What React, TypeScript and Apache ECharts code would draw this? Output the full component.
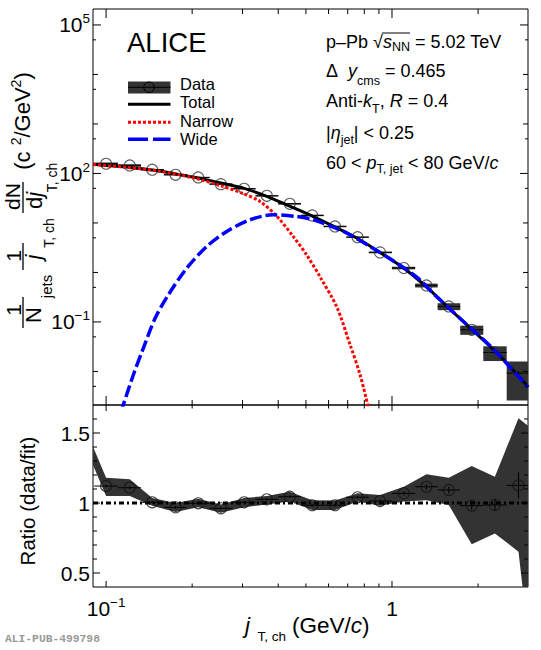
import React, { useEffect, useRef } from 'react';
import * as echarts from 'echarts';

const FONT = "'Liberation Sans', Arial, Helvetica, sans-serif";

// axis ranges
const X_MIN = 0.09;
const X_MAX = 2.99;
const Y_MIN = 0.0021;
const Y_MAX = 2.1e5;
const R_MIN = 0.4;
const R_MAX = 1.7;

// data points (bin centres, jT,ch in GeV/c)
const jT = [0.100, 0.121, 0.145, 0.175, 0.210, 0.252, 0.304, 0.365, 0.439, 0.526, 0.632, 0.758, 0.908, 1.10, 1.32, 1.58, 1.90, 2.29, 2.77];
const dataY = [157, 145, 119, 94, 83, 60.8, 49.1, 35.4, 24.4, 14.2, 8.5, 5.16, 2.54, 1.23, 0.546, 0.206, 0.0695, 0.0242, 0.00924];
const statRel = [0.01, 0.01, 0.01, 0.01, 0.01, 0.01, 0.01, 0.01, 0.01, 0.01, 0.01, 0.01, 0.012, 0.015, 0.02, 0.025, 0.03, 0.045, 0.094];
const sysRel = [0.06, 0.06, 0.03, 0.03, 0.03, 0.03, 0.03, 0.03, 0.035, 0.035, 0.035, 0.03, 0.04, 0.06, 0.09, 0.16, 0.21, 0.33, 0.72];

// fit curves
const totalX = [0.0901, 0.1002, 0.121, 0.145, 0.175, 0.21, 0.252, 0.304, 0.365, 0.439, 0.526, 0.632, 0.758, 0.908, 1.10, 1.32, 1.58, 1.90, 2.29, 2.77, 2.99];
const totalY = [153, 145, 132, 117, 98, 81, 64, 50, 34.5, 21.8, 13.8, 8.3, 4.85, 2.53, 1.22, 0.51, 0.19, 0.071, 0.026, 0.0081, 0.0049];
const narrowX = [0.0901, 0.1174, 0.1545, 0.2014, 0.2504, 0.3013, 0.3455, 0.3962, 0.4506, 0.5044, 0.5645, 0.6422, 0.713, 0.7727, 0.8244, 0.86];
const narrowY = [152, 133, 111, 82, 57, 39.4, 27.2, 13.5, 5.4, 2.2, 0.756, 0.196, 0.0351, 0.0087, 0.00196, 0.0006];
const wideX = [0.1084, 0.1144, 0.1246, 0.135, 0.1484, 0.1651, 0.1915, 0.225, 0.2642, 0.3188, 0.3846, 0.4643, 0.5306, 0.6319, 0.6944, 0.8603, 1.0245, 1.236, 1.394, 1.825, 2.261, 2.99];
const wideY = [0.00074, 0.00196, 0.00858, 0.0296, 0.119, 0.354, 1.222, 3.35, 6.73, 11.6, 14.6, 13.5, 11.6, 7.93, 6.28, 3.05, 1.63, 0.756, 0.3765, 0.089, 0.0285, 0.00475];

// ratio panel
const ratio = [1.121, 1.109, 1.005, 0.969, 0.998, 0.962, 1.005, 1.026, 1.045, 0.984, 0.984, 1.041, 1.014, 1.069, 1.116, 1.093, 0.981, 0.986, 1.126];
const ratioStat = [0.01, 0.01, 0.01, 0.01, 0.01, 0.01, 0.01, 0.01, 0.01, 0.01, 0.01, 0.01, 0.012, 0.015, 0.02, 0.025, 0.03, 0.045, 0.094];
const bandX = [0.0835, 0.100, 0.121, 0.145, 0.175, 0.210, 0.252, 0.304, 0.365, 0.439, 0.526, 0.632, 0.758, 0.908, 1.10, 1.32, 1.58, 1.90, 2.29, 2.77, 3.32];
const bandUp = [1.56, 1.18, 1.17, 1.036, 1.0, 1.03, 0.99, 1.036, 1.05, 1.08, 1.02, 1.017, 1.07, 1.057, 1.116, 1.205, 1.18, 1.264, 1.188, 1.605, 1.48];
const bandLo = [1.43, 1.05, 1.05, 0.98, 0.936, 0.97, 0.93, 0.97, 0.99, 1.01, 0.95, 0.95, 1.01, 0.98, 1.01, 1.02, 0.986, 0.705, 0.783, 0.652, -0.75];
const ratioRef = 1;

// ticks
const xMajorTicks = [0.1, 1];
const xMinorTicks = [0.2, 0.3, 0.4, 0.5, 0.6, 0.7, 0.8, 0.9, 2];
const yLabelDecades = [1e-1, 1e2, 1e5];
const yOtherDecades = [1e-2, 1, 10, 1e3, 1e4];
const yHalfDecades = [5e-3, 5e-2, 0.5, 5, 50, 500, 5e3, 5e4];
const rMajorTicks = [0.5, 1, 1.5];
const rMinorTicks = [0.6, 0.7, 0.8, 0.9, 1.1, 1.2, 1.3, 1.4, 1.6];

const binEdges = jT.map((x, i) => {
  const prev = i > 0 ? jT[i - 1] : (x * x) / jT[i + 1];
  const next = i < jT.length - 1 ? jT[i + 1] : (x * x) / jT[i - 1];
  return [Math.sqrt(prev * x), Math.sqrt(x * next)];
});

const zip = (xs: number[], ys: number[]) => xs.map((x, i) => [x, ys[i]]);

function tickRenderer(xSets: [number[], number][], ySets: [number[], number][], yRef: number) {
  return (params: any, api: any) => {
    const cs = params.coordSys;
    const L = cs.x, R = cs.x + cs.width, T = cs.y, B = cs.y + cs.height;
    const children: any[] = [];
    const ln = (x1: number, y1: number, x2: number, y2: number) =>
      children.push({ type: 'line', shape: { x1, y1, x2, y2 }, style: { stroke: '#000', lineWidth: 1 } });
    xSets.forEach(([vals, len]) =>
      vals.forEach((v) => {
        const px = api.coord([v, yRef])[0];
        if (px < L - 0.5 || px > R + 0.5) return;
        ln(px, B, px, B - len);
        ln(px, T, px, T + len);
      })
    );
    ySets.forEach(([vals, len]) =>
      vals.forEach((v) => {
        const py = api.coord([1, v])[1];
        if (py < T - 0.5 || py > B + 0.5) return;
        ln(L, py, L + len, py);
        ln(R, py, R - len, py);
      })
    );
    return { type: 'group', children };
  };
}

const errRenderer = (params: any, api: any) => {
  const x = api.value(0), y = api.value(1);
  const lo = api.value(2), hi = api.value(3), ylo = api.value(4), yhi = api.value(5);
  const c = api.coord([x, y]);
  const a = api.coord([lo, y]);
  const b = api.coord([hi, y]);
  const v1 = api.coord([x, ylo]);
  const v2 = api.coord([x, yhi]);
  return {
    type: 'group',
    children: [
      { type: 'line', shape: { x1: a[0], y1: c[1], x2: b[0], y2: c[1] }, style: { stroke: '#000', lineWidth: 1 } },
      { type: 'line', shape: { x1: c[0], y1: v1[1], x2: c[0], y2: v2[1] }, style: { stroke: '#000', lineWidth: 1 } },
    ],
  };
};

function fmtX(v: number) {
  const e = Math.log10(v);
  const r = Math.round(e);
  if (Math.abs(e - r) > 1e-6) return '';
  if (r === 0) return '1';
  if (r === -1) return '10{sup|\u22121}';
  return '';
}
function fmtYTop(v: number) {
  const e = Math.log10(v);
  const r = Math.round(e);
  if (Math.abs(e - r) > 1e-6) return '';
  if (r === 5 || r === 2 || r === -1) return '10{sup|' + (r < 0 ? '\u2212' + -r : String(r)) + '}';
  return '';
}
function fmtRatio(v: number) {
  const r = Math.round(v * 10);
  if (Math.abs(v * 10 - r) > 1e-6) return '';
  if (r === 5) return '0.5';
  if (r === 10) return '1';
  if (r === 15) return '1.5';
  return '';
}

const supRich = { sup: { fontSize: 13.5, lineHeight: 13, verticalAlign: 'top', fontFamily: FONT, color: '#000' } };

const ROT = Math.PI / 2;
function T(x: number, y: number, text: string, size: number, extra: any = {}) {
  return {
    type: 'text',
    x,
    y,
    rotation: extra.rot ? ROT : 0,
    silent: true,
    z: 50,
    style: {
      text,
      fill: extra.fill || '#000',
      fontSize: size,
      fontFamily: extra.fontFamily || FONT,
      fontStyle: extra.italic ? 'italic' : 'normal',
      fontWeight: extra.bold ? 'bold' : 'normal',
      align: extra.align || 'left',
      textAlign: extra.align || 'left',
      verticalAlign: 'middle',
      textVerticalAlign: 'middle',
      lineHeight: extra.lineHeight || size + 6,
      rich: extra.rich,
    },
  };
}
function Ln(x1: number, y1: number, x2: number, y2: number, stroke = '#000', lineWidth = 1, lineDash?: number[]) {
  return { type: 'line', silent: true, z: 50, shape: { x1, y1, x2, y2 }, style: { stroke, lineWidth, lineDash } };
}

const trRich = {
  it: { fontStyle: 'italic', fontSize: 18, fontFamily: FONT, fill: '#000' },
  sub: { fontSize: 12.5, fontFamily: FONT, lineHeight: 12, verticalAlign: 'bottom', fill: '#000' },
};
const itOnly = { i: { fontStyle: 'italic', fontSize: 22, lineHeight: 28, fontFamily: FONT, fill: '#000' } };
const gSup = { sup: { fontSize: 14, fontFamily: FONT, lineHeight: 13, verticalAlign: 'top', fill: '#000' } };
const xtRich = { it: { fontStyle: 'italic', fontFamily: FONT, fill: '#000', fontSize: 22.5 } };

function buildOption() {
  const axisCommon = {
    axisLine: { show: false },
    axisTick: { show: false },
    splitLine: { show: false },
    minorTick: { show: false },
  };
  const labelCommon = {
    color: '#000',
    fontSize: 21,
    fontFamily: FONT,
    lineHeight: 26,
    rich: supRich,
    showMinLabel: false,
    showMaxLabel: false,
  };

  const graphics: any[] = [
    T(127, 42, 'ALICE', 27.5),
    // legend
    { type: 'rect', silent: true, z: 50, shape: { x: 128, y: 81.5, width: 42.5, height: 12 }, style: { fill: '#333' } },
    Ln(128, 87.3, 170.5, 87.3),
    { type: 'circle', silent: true, z: 51, shape: { cx: 149, cy: 87.3, r: 5.2 }, style: { fill: 'none', stroke: '#000', lineWidth: 1 } },
    Ln(128, 104.3, 170.5, 104.3, '#000', 3),
    Ln(128, 122.3, 170.5, 122.3, '#ff0000', 3, [3, 2]),
    Ln(128, 139.3, 170.5, 139.3, '#0000ff', 3.5, [20, 5]),
    T(180, 84, 'Data', 16.5, { lineHeight: 15 }),
    T(180, 102.2, 'Total', 16.5, { lineHeight: 15 }),
    T(180, 120.6, 'Narrow', 16.5, { lineHeight: 15 }),
    T(180, 139, 'Wide', 16.5, { lineHeight: 15 }),
    // info block
    T(326, 42, 'p\u2013Pb \u221A{it|s}{sub|NN} = 5.02 TeV', 18, { rich: trRich, lineHeight: 22 }),
    Ln(382, 33, 410, 33, '#000', 1),
    T(326, 71, '\u0394  {it|y}{sub|cms} = 0.465', 18, { rich: trRich, lineHeight: 32 }),
    T(326, 101, 'Anti-{it|k}{sub|T}, {it|R} = 0.4', 18, { rich: trRich, lineHeight: 28 }),
    T(326, 132.5, '|{it|\u03B7}{sub|jet}| < 0.25', 18, { rich: trRich, lineHeight: 28 }),
    T(326, 162.5, '60 < {it|p}{sub|T, jet} < 80 GeV/{it|c}', 18, { rich: trRich, lineHeight: 26 }),
    // y title (rotated)
    T(13, 310, '1', 21, { rot: true, align: 'center' }),
    Ln(23, 297, 23, 328, '#000', 1.3),
    T(33.5, 315, 'N', 22, { rot: true, align: 'center' }),
    T(46.5, 286.5, 'jets', 15, { rot: true, align: 'center' }),
    T(13, 256, '1', 21, { rot: true, align: 'center' }),
    Ln(23, 243, 23, 270, '#000', 1.3),
    T(33.5, 257, 'j', 22, { rot: true, align: 'center', italic: true }),
    T(48.5, 233, 'T, ch', 14, { rot: true, align: 'center' }),
    T(12.5, 196.5, 'dN', 21, { rot: true, align: 'center' }),
    Ln(23, 182, 23, 213, '#000', 1.3),
    T(34, 200.5, 'd{i|j}', 22, { rot: true, align: 'center', rich: itOnly, lineHeight: 28 }),
    T(51.5, 177.5, 'T, ch', 14, { rot: true, align: 'center' }),
    T(22, 121, '(c {sup|2}/GeV{sup|2})', 22, { rot: true, align: 'center', rich: gSup, lineHeight: 26 }),
    // ratio title
    T(27, 501, 'Ratio (data/fit)', 20.5, { rot: true, align: 'center' }),
    // x title
    T(245, 625, 'j', 22.5, { italic: true }),
    T(257.5, 636, 'T, ch', 13.5),
    T(292, 625, '(GeV/{it|c})', 22.5, { rich: xtRich }),
    T(5, 639, 'ALI-PUB-499798', 11.3, { fontFamily: "'Liberation Mono', 'DejaVu Sans Mono', monospace", bold: true, fill: '#999' }),
  ];

  return {
    animation: false,
    backgroundColor: '#ffffff',
    textStyle: { fontFamily: FONT },
    grid: [
      { left: 93, top: 9, width: 435, height: 396, show: true, borderColor: '#000', borderWidth: 1, backgroundColor: 'transparent', containLabel: false, outerBoundsMode: 'none' },
      { left: 93, top: 405, width: 435, height: 182, show: true, borderColor: '#000', borderWidth: 1, backgroundColor: 'transparent', containLabel: false, outerBoundsMode: 'none' },
    ],
    xAxis: [
      { gridIndex: 0, type: 'log', logBase: 10, min: X_MIN, max: X_MAX, ...axisCommon, axisLabel: { show: false } },
      {
        gridIndex: 1, type: 'log', logBase: 10, min: X_MIN, max: X_MAX, ...axisCommon,
        axisLabel: { ...labelCommon, margin: 8, formatter: fmtX },
      },
    ],
    yAxis: [
      {
        gridIndex: 0, type: 'log', logBase: 10, min: Y_MIN, max: Y_MAX, ...axisCommon,
        axisLabel: { ...labelCommon, margin: 3, formatter: fmtYTop },
      },
      {
        gridIndex: 1, type: 'value', min: R_MIN, max: R_MAX, interval: 0.1, ...axisCommon,
        axisLabel: { ...labelCommon, margin: 3, interval: 0, formatter: fmtRatio },
      },
    ],
    series: [
      // ---------- top panel ----------
      {
        type: 'custom', name: 'sys', xAxisIndex: 0, yAxisIndex: 0, clip: true, z: 2, silent: true,
        data: jT.map((x, i) => [x, dataY[i], binEdges[i][0], binEdges[i][1], dataY[i] * (1 - sysRel[i]), dataY[i] * (1 + sysRel[i])]),
        encode: { x: 0, y: 1 },
        renderItem: (params: any, api: any) => {
          const p1 = api.coord([api.value(2), api.value(5)]);
          const p2 = api.coord([api.value(3), api.value(4)]);
          return { type: 'rect', shape: { x: p1[0], y: p1[1], width: p2[0] - p1[0], height: p2[1] - p1[1] }, style: { fill: '#333' } };
        },
      },
      {
        type: 'custom', name: 'stat', xAxisIndex: 0, yAxisIndex: 0, clip: true, z: 3, silent: true,
        data: jT.map((x, i) => [x, dataY[i], binEdges[i][0], binEdges[i][1], dataY[i] * (1 - statRel[i]), dataY[i] * (1 + statRel[i])]),
        encode: { x: 0, y: 1 },
        renderItem: errRenderer,
      },
      {
        type: 'scatter', name: 'Data', xAxisIndex: 0, yAxisIndex: 0, z: 4, silent: true,
        data: zip(jT, dataY), symbol: 'circle', symbolSize: 11,
        itemStyle: { color: 'rgba(0,0,0,0)', borderColor: '#333', borderWidth: 1.1 },
      },
      {
        type: 'line', name: 'Total', xAxisIndex: 0, yAxisIndex: 0, z: 5, silent: true,
        data: zip(totalX, totalY), showSymbol: false, symbol: 'none', smooth: 0.3,
        lineStyle: { color: '#000', width: 3 },
      },
      {
        type: 'line', name: 'Narrow', xAxisIndex: 0, yAxisIndex: 0, z: 6, silent: true,
        data: zip(narrowX, narrowY), showSymbol: false, symbol: 'none', smooth: 0.3,
        lineStyle: { color: '#ff0000', width: 3, type: [3, 2] },
      },
      {
        type: 'line', name: 'Wide', xAxisIndex: 0, yAxisIndex: 0, z: 7, silent: true,
        data: zip(wideX, wideY), showSymbol: false, symbol: 'none', smooth: 0.3,
        lineStyle: { color: '#0000ff', width: 3.5, type: [12, 4] },
      },
      {
        type: 'custom', name: 'ticksTop', xAxisIndex: 0, yAxisIndex: 0, z: 10, silent: true,
        data: [[1, 1]],
        renderItem: tickRenderer([[xMajorTicks, 9], [xMinorTicks, 5]], [[yLabelDecades, 8], [yOtherDecades, 5], [yHalfDecades, 3]], 1),
      },
      // ---------- ratio panel ----------
      {
        type: 'custom', name: 'band', xAxisIndex: 1, yAxisIndex: 1, clip: true, z: 2, silent: true,
        data: [[1, 1]],
        renderItem: (params: any, api: any) => {
          const pts: number[][] = [];
          bandX.forEach((x, i) => pts.push(api.coord([x, bandUp[i]])));
          for (let i = bandX.length - 1; i >= 0; i--) pts.push(api.coord([bandX[i], bandLo[i]]));
          return { type: 'polygon', shape: { points: pts }, style: { fill: '#333' } };
        },
      },
      {
        type: 'line', name: 'ref', xAxisIndex: 1, yAxisIndex: 1, z: 3, silent: true,
        data: [[X_MIN, ratioRef], [X_MAX, ratioRef]], showSymbol: false, symbol: 'none',
        lineStyle: { color: '#000', width: 3, type: [5, 3, 2, 3] },
      },
      {
        type: 'custom', name: 'ratioErr', xAxisIndex: 1, yAxisIndex: 1, clip: true, z: 4, silent: true,
        data: jT.map((x, i) => [x, ratio[i], binEdges[i][0], binEdges[i][1], ratio[i] - ratioStat[i], ratio[i] + ratioStat[i]]),
        encode: { x: 0, y: 1 },
        renderItem: errRenderer,
      },
      {
        type: 'scatter', name: 'Ratio', xAxisIndex: 1, yAxisIndex: 1, z: 5, silent: true,
        data: zip(jT, ratio), symbol: 'circle', symbolSize: 11,
        itemStyle: { color: 'rgba(0,0,0,0)', borderColor: '#111', borderWidth: 1.1 },
      },
      {
        type: 'custom', name: 'ticksRatio', xAxisIndex: 1, yAxisIndex: 1, z: 10, silent: true,
        data: [[1, 1]],
        renderItem: tickRenderer([[xMajorTicks, 6], [xMinorTicks, 3.5]], [[rMajorTicks, 7], [rMinorTicks, 4]], 1),
      },
    ],
    graphic: { elements: graphics },
  };
}

export default function App() {
  const ref = useRef<HTMLDivElement>(null);
  useEffect(() => {
    if (!ref.current) return;
    const chart = echarts.init(ref.current, undefined, { renderer: 'svg' });
    chart.setOption(buildOption() as any);
    return () => chart.dispose();
  }, []);
  return <div ref={ref} style={{ position: 'absolute', left: 0, top: 0, width: 541, height: 650, background: '#fff' }} />;
}
